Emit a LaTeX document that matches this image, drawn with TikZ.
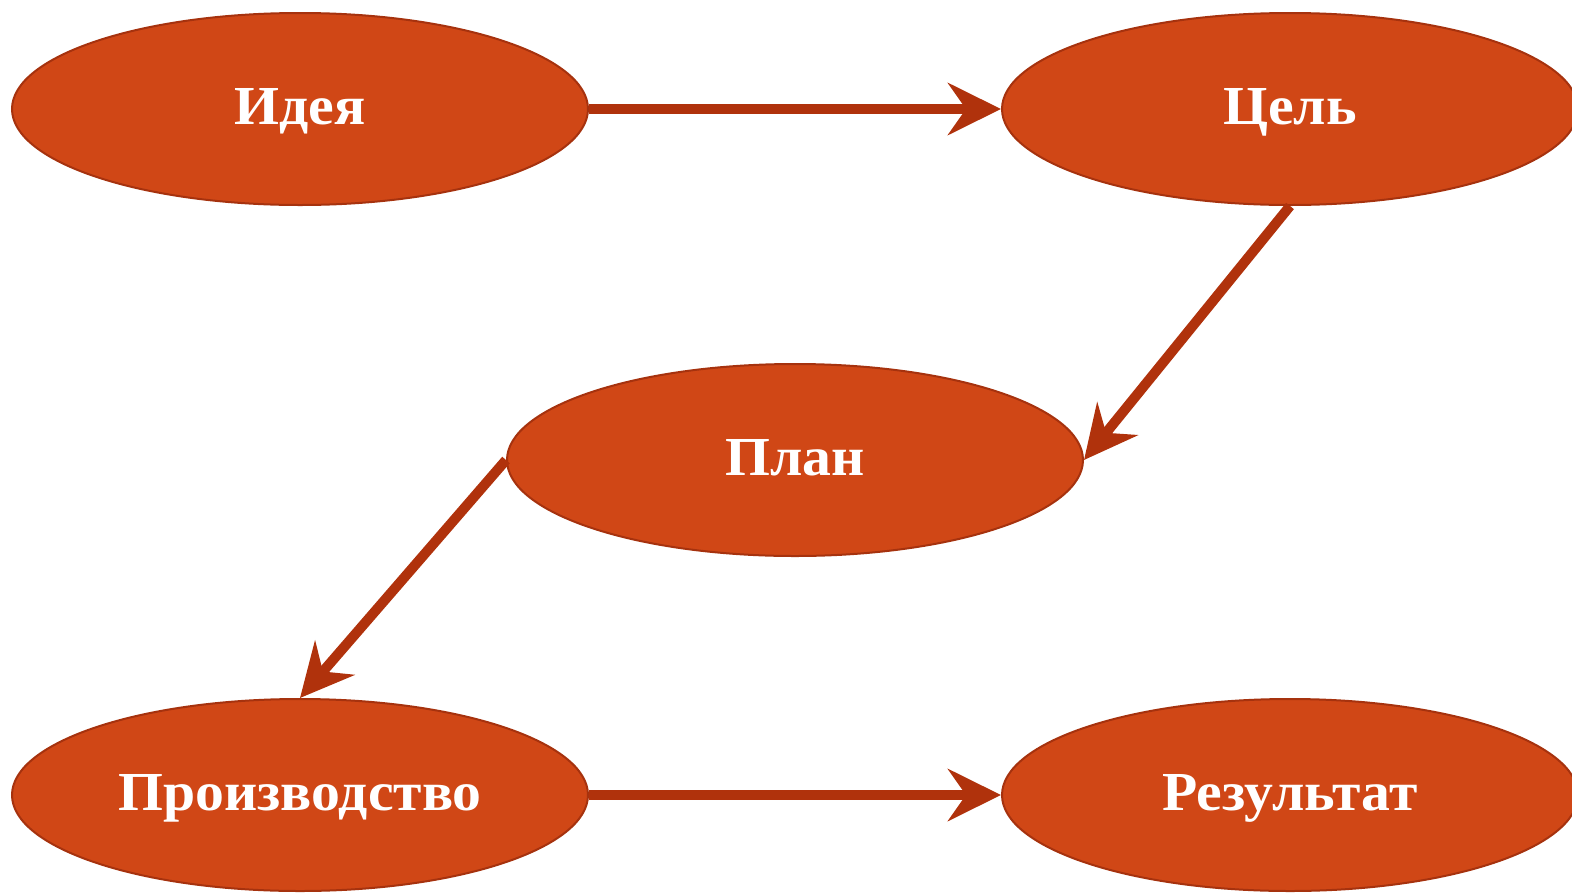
\documentclass[tikz,border=0pt]{standalone}
\usepackage{fontspec}
\setmainfont{Liberation Serif}[FakeStretch=1.05]
\usetikzlibrary{shapes.geometric,arrows.meta}
\definecolor{nodefill}{RGB}{208,71,22}
\definecolor{nodeline}{RGB}{166,50,14}
\definecolor{arrowcol}{RGB}{176,50,12}
\tikzset{
  stage/.style={ellipse, fill=nodefill, draw=nodeline, line width=2pt,
    minimum width=576pt, minimum height=192pt, inner sep=0pt,
    text height=45pt, text depth=15pt,
    text=white, font=\fontsize{55pt}{60pt}\selectfont\bfseries},
  flow/.style={draw=arrowcol, line width=10pt,
    -{Stealth[length=53pt, width=52pt, inset=18pt, fill=arrowcol]}}
}
\begin{document}
\begin{tikzpicture}[x=1pt, y=-1pt]
\useasboundingbox (0,0) rectangle (1572,892);
\node[stage] (idea) at (300,109) {Идея};
\node[stage] (goal) at (1290,109) {Цель};
\node[stage] (plan) at (795,460) {План};
\node[stage] (prod) at (300,795) {Производство};
\node[stage] (res) at (1290,795) {Результат};
\draw[flow] (idea.east) -- (goal.west);
\draw[flow] (goal.south) -- (plan.east);
\draw[flow] (plan.west) -- (prod.north);
\draw[flow] (prod.east) -- (res.west);
\end{tikzpicture}
\end{document}
